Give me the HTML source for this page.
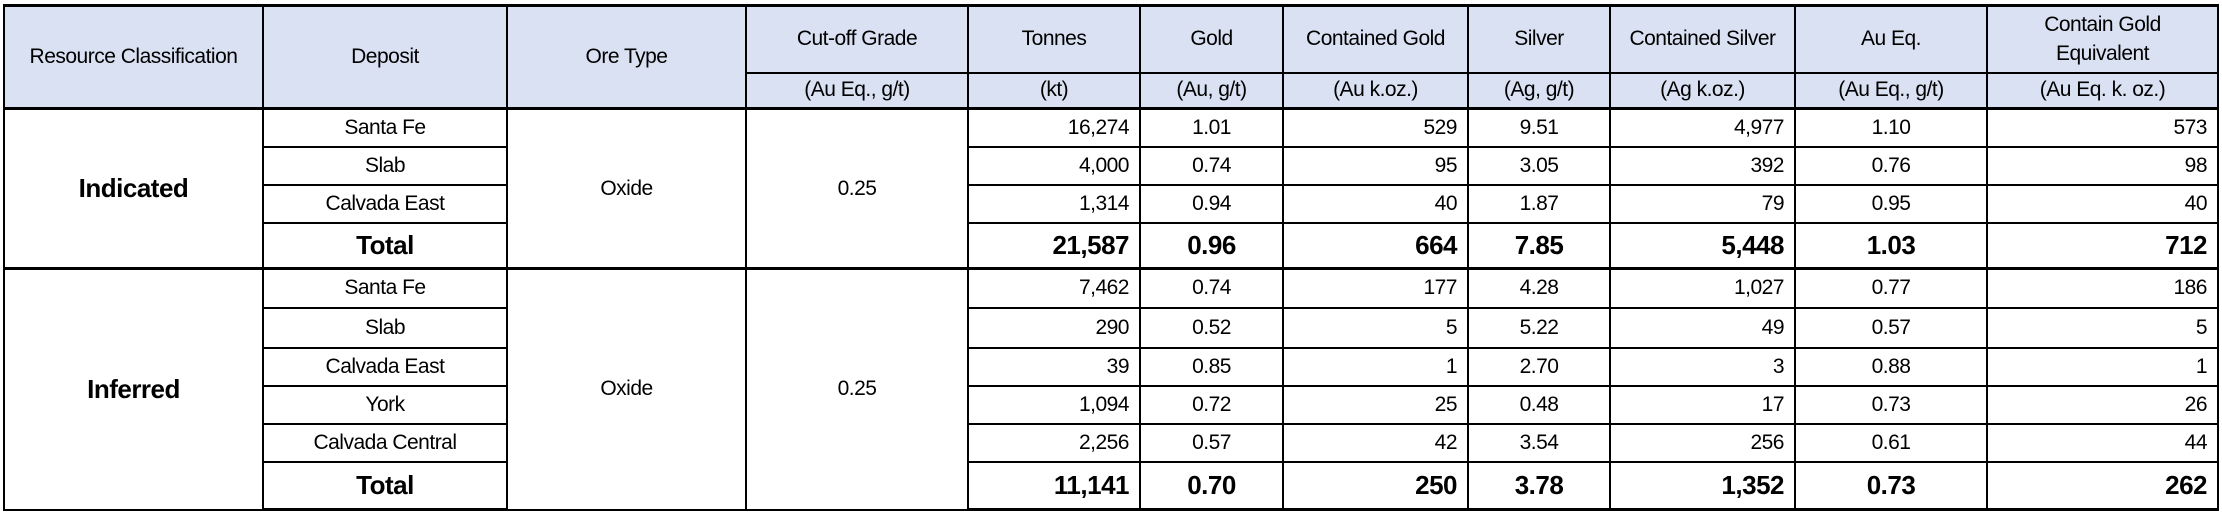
<!DOCTYPE html>
<html><head><meta charset="utf-8">
<style>
html,body{margin:0;padding:0;background:#fff;width:2222px;height:516px;overflow:hidden}
table{position:absolute;left:3px;top:4px;border-collapse:collapse;table-layout:fixed;width:2214px;
 font-family:"Liberation Sans",Arial,sans-serif;font-size:21px;color:#000;letter-spacing:-0.5px}
td,th{border:2px solid #000;padding:0 10px;overflow:hidden;white-space:nowrap;font-weight:normal}
th{background:#d9e1f2;text-align:center}
thead tr:first-child th{border-top:3px solid #000}
.c{text-align:center}.r{text-align:right}
.b{font-weight:bold;font-size:26px}
.grp td{border-top:3px solid #000}
tbody tr:last-child td{border-bottom:3px solid #000}
.big{font-weight:bold;font-size:26px;text-align:center}
th.wrap{white-space:normal;line-height:29px}
</style></head><body>
<table>
<colgroup>
<col style="width:259px"><col style="width:244px"><col style="width:239px"><col style="width:222px">
<col style="width:172px"><col style="width:143px"><col style="width:185px"><col style="width:142px">
<col style="width:185px"><col style="width:192px"><col style="width:231px">
</colgroup>
<thead>
<tr style="height:67px">
<th rowspan="2">Resource Classification</th>
<th rowspan="2">Deposit</th>
<th rowspan="2">Ore Type</th>
<th>Cut-off Grade</th>
<th>Tonnes</th>
<th>Gold</th>
<th>Contained Gold</th>
<th>Silver</th>
<th>Contained Silver</th>
<th>Au Eq.</th>
<th class="wrap">Contain Gold<br>Equivalent</th>
</tr>
<tr style="height:36px">
<th>(Au Eq., g/t)</th>
<th>(kt)</th>
<th>(Au, g/t)</th>
<th>(Au k.oz.)</th>
<th>(Ag, g/t)</th>
<th>(Ag k.oz.)</th>
<th>(Au Eq., g/t)</th>
<th>(Au Eq. k. oz.)</th>
</tr>
</thead>
<tbody id="body"></tbody>
</table>
<script>
var groups=["Indicated","Inferred"];
var indDeposits=["Santa Fe","Slab","Calvada East","Total"];
var indTonnes=["16,274","4,000","1,314","21,587"];
var indGold=["1.01","0.74","0.94","0.96"];
var indCGold=["529","95","40","664"];
var indSilver=["9.51","3.05","1.87","7.85"];
var indCSilver=["4,977","392","79","5,448"];
var indAuEq=["1.10","0.76","0.95","1.03"];
var indCAuEq=["573","98","40","712"];
var infDeposits=["Santa Fe","Slab","Calvada East","York","Calvada Central","Total"];
var infTonnes=["7,462","290","39","1,094","2,256","11,141"];
var infGold=["0.74","0.52","0.85","0.72","0.57","0.70"];
var infCGold=["177","5","1","25","42","250"];
var infSilver=["4.28","5.22","2.70","0.48","3.54","3.78"];
var infCSilver=["1,027","49","3","17","256","1,352"];
var infAuEq=["0.77","0.57","0.88","0.73","0.61","0.73"];
var infCAuEq=["186","5","1","26","44","262"];
var oreType="Oxide", cutoff="0.25";
var body=document.getElementById('body');
function cell(tr,txt,cls,name){
  var td=document.createElement('td');
  td.textContent=txt; if(cls) td.className=cls;
  
  
  tr.appendChild(td); return td;
}
function build(g,deps,t,au,cau,ag,cag,aeq,caeq,heights){
  for(var i=0;i<deps.length;i++){
    var tr=document.createElement('tr');
    
    
    tr.style.height=heights[i]+'px';
    if(i===0){
      tr.className='grp';
      var c1=cell(tr,g,'big','classification-'+g.toLowerCase()); c1.rowSpan=deps.length;
    }
    var tot=deps[i]==='Total';
    cell(tr,deps[i],tot?'c b':'c','deposit-name');
    if(i===0){
      var c2=cell(tr,oreType,'c','ore-type'); c2.rowSpan=deps.length;
      var c3=cell(tr,cutoff,'c','cutoff-grade'); c3.rowSpan=deps.length;
    }
    var B=tot?' b':'';
    cell(tr,t[i],'r'+B,'tonnes-value');
    cell(tr,au[i],'c'+B,'gold-grade-value');
    cell(tr,cau[i],'r'+B,'contained-gold-value');
    cell(tr,ag[i],'c'+B,'silver-grade-value');
    cell(tr,cag[i],'r'+B,'contained-silver-value');
    cell(tr,aeq[i],'c'+B,'au-eq-value');
    cell(tr,caeq[i],'r'+B,'contained-au-eq-value');
    body.appendChild(tr);
  }
}
build(groups[0],indDeposits,indTonnes,indGold,indCGold,indSilver,indCSilver,indAuEq,indCAuEq,[38,38,38,46]);
build(groups[1],infDeposits,infTonnes,infGold,infCGold,infSilver,infCSilver,infAuEq,infCAuEq,[39,40,38,38,38,48]);
</script>
</body></html>
